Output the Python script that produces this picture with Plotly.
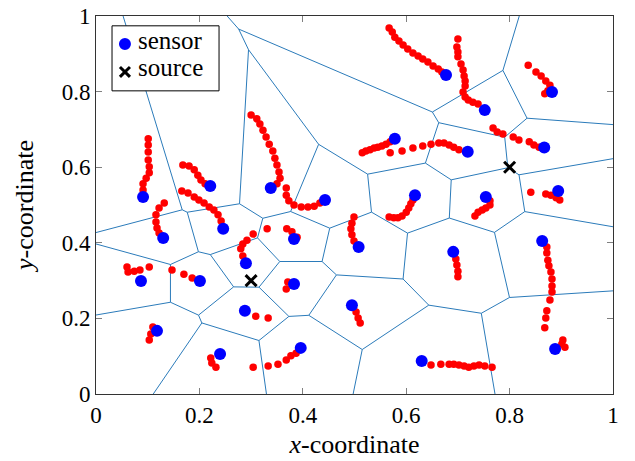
import plotly.graph_objects as go

# ---------------- data ----------------
sensor_x = [0.677, 0.752, 0.882, 0.578, 0.719, 0.867, 0.221, 0.338, 0.443, 0.091,
            0.617, 0.754, 0.894, 0.246, 0.130, 0.383, 0.508, 0.691, 0.863, 0.290,
            0.087, 0.201, 0.383, 0.495, 0.288, 0.118, 0.396, 0.240, 0.630, 0.888]
sensor_y = [0.844, 0.751, 0.799, 0.675, 0.641, 0.652, 0.550, 0.545, 0.513, 0.521,
            0.526, 0.521, 0.537, 0.437, 0.413, 0.410, 0.389, 0.376, 0.405, 0.346,
            0.299, 0.299, 0.291, 0.235, 0.220, 0.167, 0.122, 0.106, 0.087, 0.119]

source_x = [0.3, 0.8]
source_y = [0.3, 0.6]

legend_labels = ["sensor", "source"]
tick_values = [0, 0.2, 0.4, 0.6, 0.8, 1]
tick_labels = ["0", "0.2", "0.4", "0.6", "0.8", "1"]

trail_01 = [(0.567, 0.968), (0.573, 0.958), (0.578, 0.944), (0.586, 0.934), (0.594, 0.923),
            (0.603, 0.913), (0.613, 0.902), (0.623, 0.894), (0.632, 0.886), (0.642, 0.878),
            (0.652, 0.868), (0.662, 0.860), (0.669, 0.852)]
trail_02 = [(0.700, 0.939), (0.698, 0.918), (0.700, 0.905), (0.700, 0.892), (0.706, 0.873),
            (0.710, 0.857), (0.712, 0.841), (0.714, 0.828), (0.714, 0.815), (0.710, 0.799),
            (0.714, 0.786), (0.720, 0.778), (0.729, 0.772), (0.739, 0.767)]
trail_03 = [(0.836, 0.870), (0.851, 0.852), (0.861, 0.841), (0.870, 0.828), (0.878, 0.817),
            (0.868, 0.794), (0.874, 0.802)]
trail_04 = [(0.515, 0.638), (0.522, 0.643), (0.530, 0.646), (0.538, 0.651), (0.545, 0.653),
            (0.553, 0.656), (0.561, 0.661), (0.569, 0.667)]
trail_05 = [(0.569, 0.638), (0.592, 0.643), (0.613, 0.651), (0.632, 0.656), (0.648, 0.661),
            (0.663, 0.664), (0.673, 0.664), (0.683, 0.659), (0.692, 0.653), (0.702, 0.646)]
trail_06 = [(0.768, 0.704), (0.776, 0.693), (0.787, 0.688), (0.807, 0.680), (0.818, 0.672),
            (0.838, 0.667), (0.847, 0.659), (0.857, 0.653)]
trail_07 = [(0.168, 0.606), (0.180, 0.603), (0.190, 0.593), (0.197, 0.579), (0.203, 0.566),
            (0.211, 0.556)]
trail_08 = [(0.300, 0.738), (0.311, 0.728), (0.317, 0.714), (0.323, 0.698), (0.329, 0.680),
            (0.335, 0.661), (0.342, 0.643), (0.346, 0.624), (0.350, 0.606), (0.354, 0.587),
            (0.356, 0.571), (0.350, 0.556)]
trail_09 = [(0.368, 0.545), (0.368, 0.526), (0.373, 0.511), (0.383, 0.500), (0.397, 0.495),
            (0.410, 0.495), (0.422, 0.497), (0.433, 0.505)]
trail_10 = [(0.101, 0.675), (0.101, 0.659), (0.101, 0.640), (0.101, 0.619), (0.103, 0.601),
            (0.103, 0.585), (0.097, 0.571), (0.091, 0.556), (0.091, 0.540)]
trail_11 = [(0.613, 0.513), (0.609, 0.503), (0.605, 0.492), (0.600, 0.481), (0.592, 0.471),
            (0.584, 0.466), (0.576, 0.466), (0.567, 0.468)]
trail_12 = [(0.762, 0.511), (0.762, 0.500), (0.754, 0.492), (0.747, 0.487), (0.739, 0.481),
            (0.733, 0.471)]
trail_13 = [(0.841, 0.534), (0.870, 0.529), (0.880, 0.526), (0.890, 0.519), (0.897, 0.513)]
trail_14 = [(0.166, 0.537), (0.178, 0.532), (0.190, 0.521), (0.199, 0.513), (0.209, 0.505),
            (0.219, 0.495), (0.228, 0.487), (0.236, 0.474), (0.242, 0.458)]
trail_15 = [(0.132, 0.505), (0.122, 0.492), (0.116, 0.474), (0.116, 0.455), (0.118, 0.439),
            (0.122, 0.426)]
trail_16 = [(0.369, 0.437), (0.379, 0.429), (0.389, 0.415)]
trail_17 = [(0.499, 0.468), (0.495, 0.452), (0.493, 0.437), (0.495, 0.421), (0.499, 0.405)]
trail_18 = [(0.696, 0.357), (0.698, 0.341), (0.700, 0.325), (0.700, 0.310)]
trail_19 = [(0.872, 0.389), (0.872, 0.373), (0.874, 0.354), (0.876, 0.339), (0.880, 0.323),
            (0.882, 0.304), (0.882, 0.286), (0.882, 0.270), (0.878, 0.249), (0.872, 0.220),
            (0.870, 0.201), (0.868, 0.175)]
trail_20 = [(0.284, 0.365), (0.280, 0.384), (0.284, 0.397), (0.292, 0.407), (0.304, 0.423),
            (0.331, 0.437)]
trail_21 = [(0.060, 0.336), (0.062, 0.323), (0.074, 0.325), (0.085, 0.328), (0.103, 0.336)]
trail_22 = [(0.147, 0.328), (0.170, 0.317), (0.186, 0.307)]
trail_23 = [(0.371, 0.296), (0.368, 0.278)]
trail_24 = [(0.503, 0.217), (0.507, 0.201), (0.511, 0.188)]
trail_25 = [(0.309, 0.206), (0.333, 0.201)]
trail_26 = [(0.110, 0.177), (0.106, 0.159), (0.103, 0.143)]
trail_27 = [(0.387, 0.108), (0.377, 0.101), (0.368, 0.090), (0.352, 0.079), (0.333, 0.074),
            (0.304, 0.071)]
trail_28 = [(0.222, 0.095), (0.224, 0.082), (0.232, 0.071)]
trail_29 = [(0.648, 0.077), (0.667, 0.079), (0.683, 0.079), (0.692, 0.079), (0.702, 0.077),
            (0.712, 0.074), (0.721, 0.071), (0.731, 0.074), (0.741, 0.077), (0.752, 0.074),
            (0.766, 0.071)]
trail_30 = [(0.903, 0.143), (0.901, 0.132), (0.907, 0.124)]

trails = [trail_01, trail_02, trail_03, trail_04, trail_05, trail_06, trail_07, trail_08,
          trail_09, trail_10, trail_11, trail_12, trail_13, trail_14, trail_15, trail_16,
          trail_17, trail_18, trail_19, trail_20, trail_21, trail_22, trail_23, trail_24,
          trail_25, trail_26, trail_27, trail_28, trail_29, trail_30]


# ---------------- Voronoi cells (clipped to unit box) ----------------
def clip(poly, a, b, c):
    out = []
    n = len(poly)
    for k in range(n):
        P = poly[k]
        Q = poly[(k + 1) % n]
        fp = a * P[0] + b * P[1] - c
        fq = a * Q[0] + b * Q[1] - c
        if fp <= 0:
            out.append(P)
        if fp * fq < 0:
            t = fp / (fp - fq)
            out.append((P[0] + t * (Q[0] - P[0]), P[1] + t * (Q[1] - P[1])))
    return out


def on_same_side(P, Q, eps=1e-9):
    for idx in (0, 1):
        for v in (0.0, 1.0):
            if abs(P[idx] - v) < eps and abs(Q[idx] - v) < eps:
                return True
    return False


edge_x, edge_y = [], []
seen = set()
for i in range(len(sensor_x)):
    poly = [(0.0, 0.0), (1.0, 0.0), (1.0, 1.0), (0.0, 1.0)]
    xi, yi = sensor_x[i], sensor_y[i]
    for j in range(len(sensor_x)):
        if i == j:
            continue
        a = sensor_x[j] - xi
        b = sensor_y[j] - yi
        mx = (sensor_x[j] + xi) / 2
        my = (sensor_y[j] + yi) / 2
        poly = clip(poly, a, b, a * mx + b * my)
        if not poly:
            break
    n = len(poly)
    for k in range(n):
        P, Q = poly[k], poly[(k + 1) % n]
        if on_same_side(P, Q):
            continue
        key = tuple(sorted([(round(P[0], 5), round(P[1], 5)), (round(Q[0], 5), round(Q[1], 5))]))
        if key in seen or key[0] == key[1]:
            continue
        seen.add(key)
        edge_x += [P[0], Q[0], None]
        edge_y += [P[1], Q[1], None]

trail_x = [p[0] for t in trails for p in t]
trail_y = [p[1] for t in trails for p in t]

FONT = "Liberation Serif"
SENSOR_COLOR = "#0000ff"

fig = go.Figure()
fig.add_trace(go.Scatter(x=edge_x, y=edge_y, mode="lines",
                         line=dict(color="#2b7bba", width=1), hoverinfo="skip",
                         showlegend=False))
fig.add_trace(go.Scatter(x=trail_x, y=trail_y, mode="markers",
                         marker=dict(color="#ff0000", size=7.5), showlegend=False))
fig.add_trace(go.Scatter(x=sensor_x, y=sensor_y, mode="markers", name=legend_labels[0],
                         marker=dict(color=SENSOR_COLOR, size=12), showlegend=False))
fig.add_trace(go.Scatter(x=source_x, y=source_y, mode="markers", name=legend_labels[1],
                         marker=dict(symbol="x-thin", size=11,
                                     line=dict(color="black", width=3), color="black"),
                         showlegend=False))

# ---- legend box drawn in plot-area (paper) coordinates ----
shapes = [
    dict(type="rect", xref="paper", yref="paper", x0=0.031, x1=0.238, y0=0.802, y1=0.974,
         line=dict(color="black", width=1), fillcolor="white", layer="above"),
    dict(type="circle", xref="paper", yref="paper", x0=0.056 - 0.0116, x1=0.056 + 0.0116,
         y0=0.926 - 0.0159, y1=0.926 + 0.0159, line=dict(width=0),
         fillcolor=SENSOR_COLOR, layer="above"),
    dict(type="line", xref="paper", yref="paper", x0=0.056 - 0.0097, x1=0.056 + 0.0097,
         y0=0.852 - 0.0132, y1=0.852 + 0.0132, line=dict(color="black", width=3), layer="above"),
    dict(type="line", xref="paper", yref="paper", x0=0.056 - 0.0097, x1=0.056 + 0.0097,
         y0=0.852 + 0.0132, y1=0.852 - 0.0132, line=dict(color="black", width=3), layer="above"),
]
annotations = [
    dict(text=legend_labels[0], xref="paper", yref="paper", x=0.078, y=0.934,
         xanchor="left", yanchor="middle", showarrow=False,
         font=dict(family=FONT, size=25, color="black")),
    dict(text=legend_labels[1], xref="paper", yref="paper", x=0.078, y=0.864,
         xanchor="left", yanchor="middle", showarrow=False,
         font=dict(family=FONT, size=25, color="black")),
]

axis_common = dict(range=[0, 1], showgrid=False, zeroline=False, showline=True,
                   linecolor="#333333", linewidth=1, mirror="ticks", ticks="inside",
                   ticklen=6, tickcolor="#808080", tickvals=tick_values,
                   ticktext=tick_labels, automargin=False,
                   tickfont=dict(family=FONT, size=23, color="black"))

fig.update_layout(
    width=635, height=461,
    margin=dict(l=96, r=22, t=16, b=67),
    paper_bgcolor="white", plot_bgcolor="white",
    font=dict(family=FONT, color="black"),
    showlegend=False,
    shapes=shapes, annotations=annotations,
    xaxis=dict(axis_common, title=dict(text="<i>x</i>-coordinate",
                                       font=dict(family=FONT, size=26), standoff=8)),
    yaxis=dict(axis_common, title=dict(text="<i>y</i>-coordinate",
                                       font=dict(family=FONT, size=26), standoff=20)),
)

fig.write_html("out.html")
